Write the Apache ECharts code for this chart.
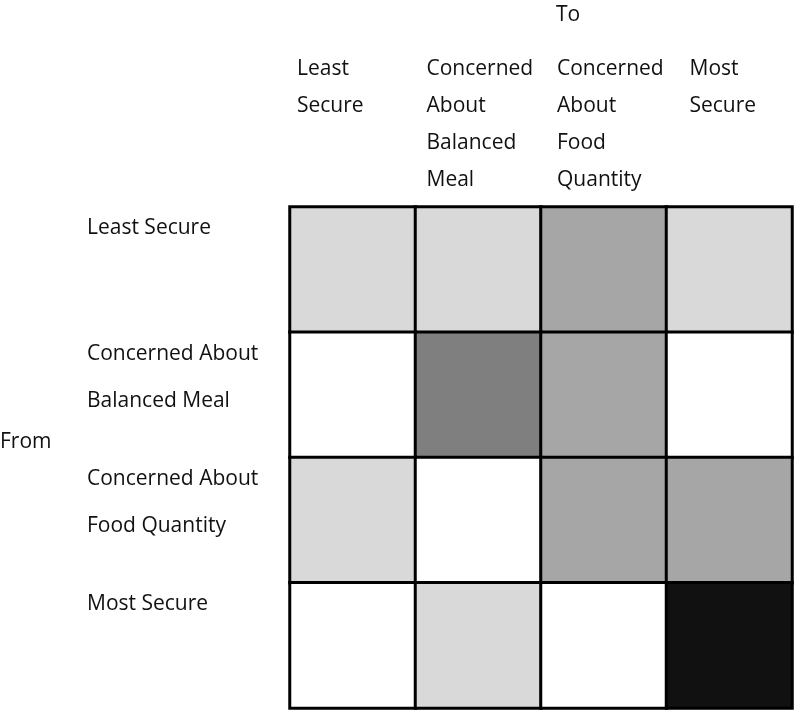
<!DOCTYPE html>
<html><head><meta charset="utf-8">
<script src="https://cdn.jsdelivr.net/npm/echarts@6/dist/echarts.min.js"></script>
<style>html,body{margin:0;padding:0;background:#fff}#c{width:794px;height:710px}</style>
</head><body><div id="c"></div>
<script>
const toCategories = ['Least\nSecure', 'Concerned\nAbout\nBalanced\nMeal', 'Concerned\nAbout\nFood\nQuantity', 'Most\nSecure'];
const fromCategories = ['Least Secure', 'Concerned About\nBalanced Meal', 'Concerned About\nFood Quantity', 'Most Secure'];
// shade level for each From row (0 = white ... 4 = black)
const rowLeastSecure = [1, 1, 2, 1];
const rowBalancedMeal = [0, 3, 2, 0];
const rowFoodQuantity = [1, 0, 2, 2];
const rowMostSecure = [0, 1, 0, 4];
const levelColors = ['#ffffff', '#d9d9d9', '#a6a6a6', '#7f7f7f', '#111111'];

const rows = [rowLeastSecure, rowBalancedMeal, rowFoodQuantity, rowMostSecure];
const data = [];
rows.forEach((r, y) => r.forEach((v, x) => data.push([x, y, v])));

const font = 'Open Sans';
const fs = 21;
const colPad = [7, 11, 16, 23];
const rich = {};
colPad.forEach((p, i) => { rich['p' + i] = { padding: [0, 0, 0, p], lineHeight: 37, fontSize: fs, fontFamily: font, color: '#111' }; });

const chart = echarts.init(document.getElementById('c'));
chart.setOption({
  animation: false,
  textStyle: { fontFamily: font },
  grid: { left: 290, top: 207, right: 2, bottom: 2, outerBoundsMode: 'none', containLabel: false },
  xAxis: [
    { type: 'category', data: toCategories.slice(), position: 'top',
      axisLine: { show: false }, axisTick: { show: false }, axisLabel: { show: false }, splitLine: { show: false } },
    { type: 'category', data: toCategories.concat(['']), position: 'top', boundaryGap: false,
      axisLine: { show: false }, axisTick: { show: false }, splitLine: { show: false },
      axisLabel: { interval: 0, align: 'left', verticalAlign: 'top', margin: 156, lineHeight: 37,
        fontSize: fs, color: '#111', fontFamily: font, rich: rich,
        formatter: (v, i) => v ? v.split('\n').map(l => '{p' + i + '|' + l + '}').join('\n') : '' } }
  ],
  yAxis: [
    { type: 'category', data: fromCategories.slice(), inverse: true,
      axisLine: { show: false }, axisTick: { show: false }, axisLabel: { show: false }, splitLine: { show: false } },
    { type: 'category', data: fromCategories.concat(['']), inverse: true, boundaryGap: false, position: 'left',
      axisLine: { show: false }, axisTick: { show: false }, splitLine: { show: false },
      axisLabel: { interval: 0, align: 'left', verticalAlign: 'top', margin: 203, lineHeight: 47,
        padding: [-2, 0, 0, 0], fontSize: fs, color: '#111', fontFamily: font } }
  ],
  visualMap: {
    show: false, type: 'piecewise', dimension: 2,
    pieces: levelColors.map((c, i) => ({ value: i, color: c }))
  },
  series: [{
    type: 'heatmap', xAxisIndex: 0, yAxisIndex: 0, data: data,
    itemStyle: { borderColor: '#000', borderWidth: 3 },
    label: { show: false }, emphasis: { disabled: true }
  }],
  graphic: [
    { type: 'text', left: 556, top: 5, style: { text: 'To', fontSize: fs, fontFamily: font, fill: '#111' } },
    { type: 'text', left: 0, top: 432, style: { text: 'From', fontSize: fs, fontFamily: font, fill: '#111' } }
  ]
});
</script></body></html>
